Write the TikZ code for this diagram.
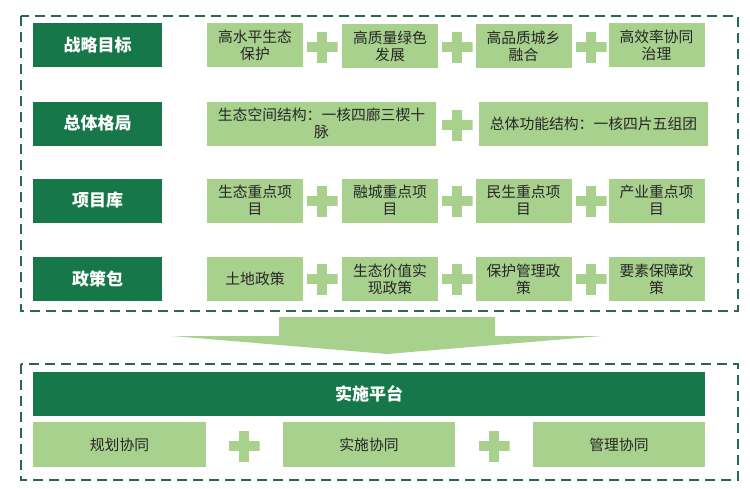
\documentclass[tikz,border=0pt]{standalone}
\usepackage{fontspec}
\setmainfont{Noto Sans CJK SC}
\usepackage{tikz}

\definecolor{darkg}{RGB}{22,119,72}
\definecolor{lightg}{RGB}{169,209,142}
\definecolor{dashg}{RGB}{38,104,80}

\begin{document}
\begin{tikzpicture}[x=1pt,y=-1pt]
\tikzstyle{every node}+=[inner sep=0pt]
\tikzstyle{head}=[fill=darkg, text=white, font=\fontsize{17}{20}\selectfont\bfseries, minimum width=129pt, minimum height=44pt]
\tikzstyle{item}=[fill=lightg, text=black!85, font=\fontsize{14.8}{17}\selectfont, align=center, minimum width=96pt, minimum height=44pt]
\tikzstyle{frame}=[dashg, line width=2.2pt, dash pattern=on 10pt off 6pt]
\tikzstyle{plus}=[minimum size=31pt, path picture={
  \fill [lightg] ([xshift=-5pt]path picture bounding box.north) rectangle ([xshift=5pt]path picture bounding box.south);
  \fill [lightg] ([yshift=-5pt]path picture bounding box.west) rectangle ([yshift=5pt]path picture bounding box.east);}]
\useasboundingbox (0,0) rectangle (750,488);
% upper frame
\draw [frame] (21,16) rectangle (738,311);
\node [head] (goal) at (97.5,45) {战略目标};
\node [item] (goal1) at (255,45) {高水平生态\\保护};
\node [plus] (pg1) at (322,47) {};
\node [item] (goal2) at (390,46) {高质量绿色\\发展};
\node [plus] (pg2) at (457,47) {};
\node [item] (goal3) at (523.5,46) {高品质城乡\\融合};
\node [plus] (pg3) at (591,47) {};
\node [item] (goal4) at (656.5,45) {高效率协同\\治理};
\node [head] (layout) at (97.5,123.5) {总体格局};
\node [item, minimum width=229pt] (layout1) at (321.5,123.5) {生态空间结构：一核四廊三楔十\\脉};
\node [plus] (pl1) at (457,125) {};
\node [item, minimum width=229pt] (layout2) at (593.5,123.5) {总体功能结构：一核四片五组团};
\node [head] (proj) at (97.5,200.5) {项目库};
\node [item] (proj1) at (255,200.5) {生态重点项\\目};
\node [plus] (pp1) at (322,201) {};
\node [item] (proj2) at (390,200.5) {融城重点项\\目};
\node [plus] (pp2) at (457,201) {};
\node [item] (proj3) at (523.5,200.5) {民生重点项\\目};
\node [plus] (pp3) at (591,201) {};
\node [item] (proj4) at (656.5,200.5) {产业重点项\\目};
\node [head] (policy) at (97.5,279) {政策包};
\node [item] (policy1) at (255,279) {土地政策};
\node [plus] (pc1) at (322,279) {};
\node [item] (policy2) at (390,279) {生态价值实\\现政策};
\node [plus] (pc2) at (457,279) {};
\node [item] (policy3) at (523.5,279) {保护管理政\\策};
\node [plus] (pc3) at (591,279) {};
\node [item] (policy4) at (656.5,279) {要素保障政\\策};
% big arrow
\fill [lightg] (279,317) -- (495,317) -- (495,336) -- (602,336) -- (387,354) -- (172,336) -- (279,336) -- cycle;
% lower frame
\draw [frame] (21,364) rectangle (738,480);
\node [head, minimum width=672pt] (platform) at (369,394) {实施平台};
\node [item, minimum width=173pt, minimum height=45pt] (plan) at (119.5,444.5) {规划协同};
\node [plus] (pb1) at (244,446) {};
\node [item, minimum width=172pt, minimum height=45pt] (impl) at (369,444.5) {实施协同};
\node [plus] (pb2) at (494,446) {};
\node [item, minimum width=172pt, minimum height=45pt] (manage) at (619,444.5) {管理协同};
\end{tikzpicture}
\end{document}
